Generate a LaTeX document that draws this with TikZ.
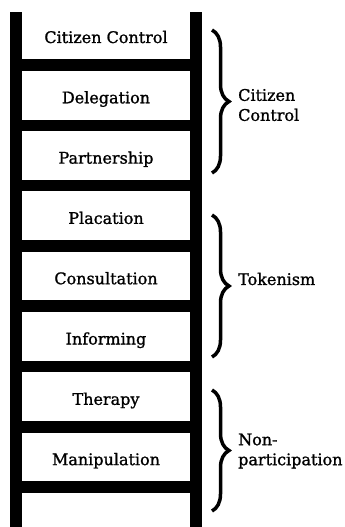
\documentclass[tikz,border=0pt]{standalone}
\usepackage{fontspec}
\setmainfont{DejaVu Serif}[FakeBold=1.2]
\usetikzlibrary{decorations.pathreplacing}

\tikzset{
    rung label/.style={font=\fontsize{16}{18}\selectfont, text height=11pt, text depth=3pt, inner sep=0pt},
    group label/.style={font=\fontsize{16}{20}\selectfont, align=left, anchor=west, inner sep=0pt},
    group brace/.style={decorate, decoration={brace, amplitude=17pt}, line width=3.5pt}
}

\begin{document}
\begin{tikzpicture}[x=1pt, y=1pt, node distance=60.3pt]
    \useasboundingbox (0,0) rectangle (345,-527);

    % Ladder
    \fill (10,-12) rectangle (21.7,-527);
    \fill (190,-12) rectangle (201.7,-527);
    \foreach \i in {0,...,7}
        \fill (21,{-59.2-60.3*\i}) rectangle (191,{-70.8-60.3*\i});

    % Nodes
    \node [rung label] at (106,-39) (control) {Citizen Control};
    \node [rung label, below of=control] (delegation) {Delegation};
    \node [rung label, below of=delegation] (partnership) {Partnership};
    \node [rung label, below of=partnership] (placation) {Placation};
    \node [rung label, below of=placation] (consultation) {Consultation};
    \node [rung label, below of=consultation] (informing) {Informing};
    \node [rung label, below of=informing] (therapy) {Therapy};
    \node [rung label, below of=therapy] (manipulation) {Manipulation};

    \coordinate (power top) at (212,-30);
    \coordinate (power bottom) at (212,-173);
    \coordinate (token top) at (212,-215);
    \coordinate (token bottom) at (212,-357);
    \coordinate (non top) at (212,-390);
    \coordinate (non bottom) at (212,-511);

    \node [group label] at (238,-105) (power) {Citizen\\Control};
    \node [group label] at (238,-279) (token) {Tokenism};
    \node [group label] at (238,-451) (non) {Non-\\participation};

    % Braces
    \draw [group brace] (power top) -- (power bottom);
    \draw [group brace] (token top) -- (token bottom);
    \draw [group brace] (non top) -- (non bottom);

\end{tikzpicture}
\end{document}
